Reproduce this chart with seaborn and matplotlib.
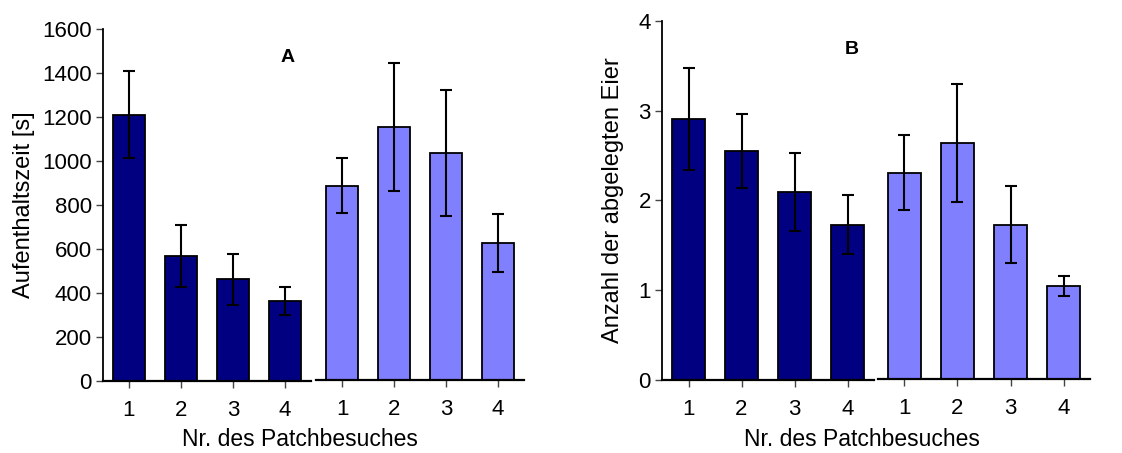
import numpy as np
import pandas as pd
import seaborn as sns
import matplotlib.pyplot as plt

# --- DATA ---
visits = ["1", "2", "3", "4"]

# Panel A: Aufenthaltszeit [s]
a_dark_mean = [1210, 570, 462, 365]
a_dark_err = [198, 141, 116, 63]
a_light_mean = [884, 1150, 1030, 623]
a_light_err = [126, 289, 286, 131]

# Panel B: Anzahl der abgelegten Eier
b_dark_mean = [2.91, 2.55, 2.09, 1.73]
b_dark_err = [0.565, 0.415, 0.435, 0.33]
b_light_mean = [2.30, 2.63, 1.72, 1.04]
b_light_err = [0.415, 0.66, 0.425, 0.11]

DARK = "#000080"
LIGHT = "#8080FF"

sns.set_theme(style="white")
plt.rcParams['font.family'] = ['Liberation Sans', 'DejaVu Sans']
plt.rcParams['text.color'] = 'black'
plt.rcParams['axes.labelcolor'] = 'black'
plt.rcParams['xtick.color'] = 'black'
plt.rcParams['ytick.color'] = 'black'

W, H = 1122, 453
fig = plt.figure(figsize=(W / 100, H / 100), dpi=100)


def px_axes(x0, x1, ytop, ybot):
    return fig.add_axes([x0 / W, 1 - ybot / H, (x1 - x0) / W, (ybot - ytop) / H])


def draw_group(ax, means, errs, color, ymax, yticks, show_y):
    df = pd.DataFrame({"visit": visits, "value": means})
    sns.barplot(data=df, x="visit", y="value", color=color, saturation=1,
                edgecolor="black", linewidth=1.3, width=0.62, ax=ax)
    ax.errorbar(x=np.arange(len(means)), y=means, yerr=errs, fmt="none",
                ecolor="black", elinewidth=1.5, capsize=4.5, capthick=1.5)
    ax.set_xlim(-0.5, 3.5)
    ax.set_ylim(0, ymax)
    ax.set_xlabel("")
    ax.set_ylabel("")
    for s in ["top", "right"]:
        ax.spines[s].set_visible(False)
    ax.spines["bottom"].set_color("black")
    ax.spines["bottom"].set_linewidth(1.6)
    ax.tick_params(axis="x", direction="out", length=5, width=1, color="#444444",
                   labelcolor="black", labelsize=16, pad=9, bottom=True)
    if show_y:
        ax.spines["left"].set_color("black")
        ax.spines["left"].set_linewidth(1.3)
        ax.set_yticks(yticks)
        ax.tick_params(axis="y", direction="out", length=5, width=1, color="#444444",
                       labelcolor="black", labelsize=16, pad=3, left=True)
    else:
        ax.spines["left"].set_visible(False)
        ax.set_yticks([])
    ax.set_facecolor("none")


# Panel A
axA1 = px_axes(103, 311, 29, 381)
axA2 = px_axes(316, 524, 28, 380)
draw_group(axA1, a_dark_mean, a_dark_err, DARK, 1600, range(0, 1601, 200), True)
draw_group(axA2, a_light_mean, a_light_err, LIGHT, 1600, [], False)
axA1.set_ylabel("Aufenthaltszeit [s]", fontsize=17, labelpad=5, color="black")
fig.text(288 / W, 1 - 58 / H, "A", fontsize=14, fontweight="bold", ha="center", va="center")
fig.text(300 / W, 1 - 440 / H, "Nr. des Patchbesuches", fontsize=16.5, ha="center", va="center")

# Panel B
axB1 = px_axes(662, 874, 21, 380)
axB2 = px_axes(878, 1090, 20, 379)
draw_group(axB1, b_dark_mean, b_dark_err, DARK, 4, range(0, 5), True)
draw_group(axB2, b_light_mean, b_light_err, LIGHT, 4, [], False)
axB1.set_ylabel("Anzahl der abgelegten Eier", fontsize=17, labelpad=10, color="black")
fig.text(852 / W, 1 - 49 / H, "B", fontsize=14, fontweight="bold", ha="center", va="center")
fig.text(862 / W, 1 - 440 / H, "Nr. des Patchbesuches", fontsize=16.5, ha="center", va="center")

fig.savefig("out.png", dpi=100, facecolor="white")
